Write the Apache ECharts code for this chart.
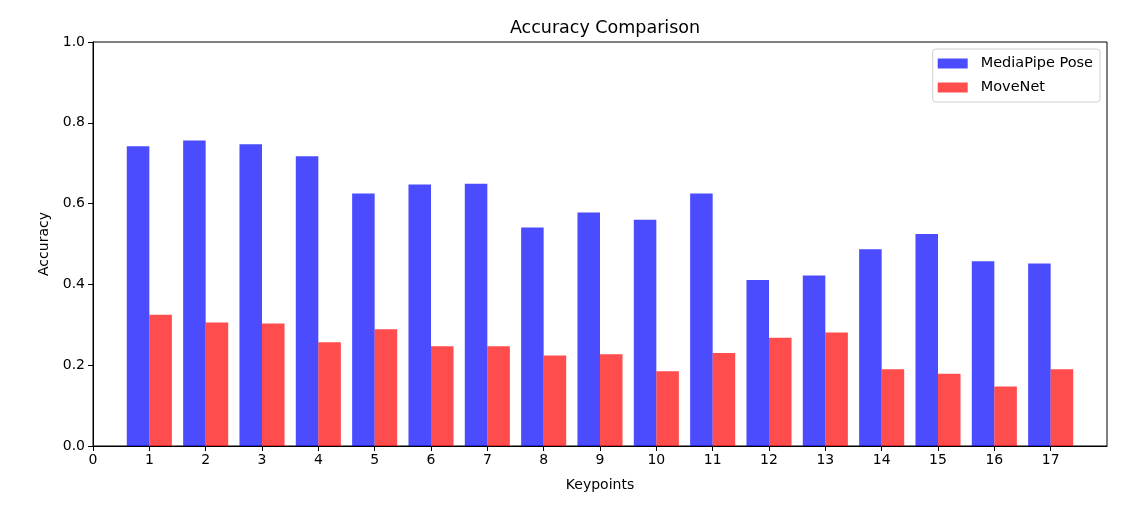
<!DOCTYPE html>
<html>
<head>
<meta charset="utf-8">
<script src="https://cdn.jsdelivr.net/npm/echarts@6/dist/echarts.min.js"></script>
<style>html,body{margin:0;padding:0;background:#fff}#c{width:1145px;height:505px}</style>
</head>
<body>
<div id="c"></div>
<script>
const keypoints = [1,2,3,4,5,6,7,8,9,10,11,12,13,14,15,16,17];
const mediapipe = [0.742,0.756,0.747,0.717,0.625,0.647,0.649,0.541,0.578,0.560,0.625,0.411,0.422,0.487,0.525,0.457,0.452];
const movenet = [0.325,0.306,0.303,0.257,0.289,0.247,0.247,0.224,0.227,0.185,0.230,0.268,0.281,0.190,0.179,0.147,0.190];
const xTicks = [0,1,2,3,4,5,6,7,8,9,10,11,12,13,14,15,16,17];
const yTicks = [0,0.2,0.4,0.6,0.8,1.0];

const FONT = 'DejaVu Sans';
const BAR_W = 0.4;

function barRenderer(offset, color) {
  return function (params, api) {
    const x = api.value(0), y = api.value(1);
    const p0 = api.coord([x + offset, y]);
    const p1 = api.coord([x + offset + BAR_W, 0]);
    return {
      type: 'rect',
      shape: { x: p0[0], y: p0[1], width: p1[0] - p0[0], height: p1[1] - p0[1] },
      style: { fill: color }
    };
  };
}

const chart = echarts.init(document.getElementById('c'), null, { renderer: 'canvas' });
chart.setOption({
  animation: false,
  backgroundColor: '#fff',
  textStyle: { fontFamily: FONT },
  title: {
    text: 'Accuracy Comparison',
    left: 600, top: 14, textAlign: 'center',
    textStyle: { fontFamily: FONT, fontSize: 17.5, fontWeight: 'normal', color: '#000' }
  },
  legend: {
    orient: 'vertical',
    right: 45, top: 49,
    padding: [7, 7, 7, 5],
    itemGap: 9,
    itemWidth: 30, itemHeight: 10,
    borderColor: '#d0d0d0', borderWidth: 1, borderRadius: 3,
    textStyle: { fontFamily: FONT, fontSize: 14.5, color: '#000', padding: [0, 0, 0, 8] },
    data: [
      { name: 'MediaPipe Pose', icon: 'rect', itemStyle: { color: 'rgba(0,0,255,0.7)' } },
      { name: 'MoveNet', icon: 'rect', itemStyle: { color: 'rgba(255,0,0,0.7)' } }
    ]
  },
  grid: {
    left: 93, right: 38, top: 42, bottom: 59,
    show: true, borderColor: '#000', borderWidth: 1, backgroundColor: 'transparent'
  },
  xAxis: {
    type: 'value', min: 0, max: 18, interval: 1,
    name: 'Keypoints', nameLocation: 'middle', nameGap: 32,
    nameTextStyle: { fontFamily: FONT, fontSize: 14, color: '#000' },
    axisLine: { show: true, lineStyle: { color: '#000', width: 1 } },
    axisTick: { show: true, inside: false, length: 5, lineStyle: { color: '#000' }, customValues: xTicks },
    axisLabel: { fontFamily: FONT, fontSize: 14, color: '#000', margin: 7, customValues: xTicks, formatter: v => String(v) },
    splitLine: { show: false }
  },
  yAxis: {
    type: 'value', min: 0, max: 1, interval: 0.2,
    name: 'Accuracy', nameLocation: 'middle', nameGap: 40,
    nameTextStyle: { fontFamily: FONT, fontSize: 14, color: '#000' },
    axisLine: { show: true, lineStyle: { color: '#000', width: 1 } },
    axisTick: { show: true, inside: false, length: 5, lineStyle: { color: '#000' }, customValues: yTicks },
    axisLabel: { fontFamily: FONT, fontSize: 14, color: '#000', margin: 8, customValues: yTicks, formatter: v => v.toFixed(1) },
    splitLine: { show: false }
  },
  series: [
    {
      name: 'MediaPipe Pose', type: 'custom',
      itemStyle: { color: 'rgba(0,0,255,0.7)' },
      renderItem: barRenderer(-BAR_W, 'rgba(0,0,255,0.7)'),
      encode: { x: 0, y: 1 },
      data: keypoints.map((k, i) => [k, mediapipe[i]])
    },
    {
      name: 'MoveNet', type: 'custom',
      itemStyle: { color: 'rgba(255,0,0,0.7)' },
      renderItem: barRenderer(0, 'rgba(255,0,0,0.7)'),
      encode: { x: 0, y: 1 },
      data: keypoints.map((k, i) => [k, movenet[i]])
    }
  ]
});
</script>
</body>
</html>
